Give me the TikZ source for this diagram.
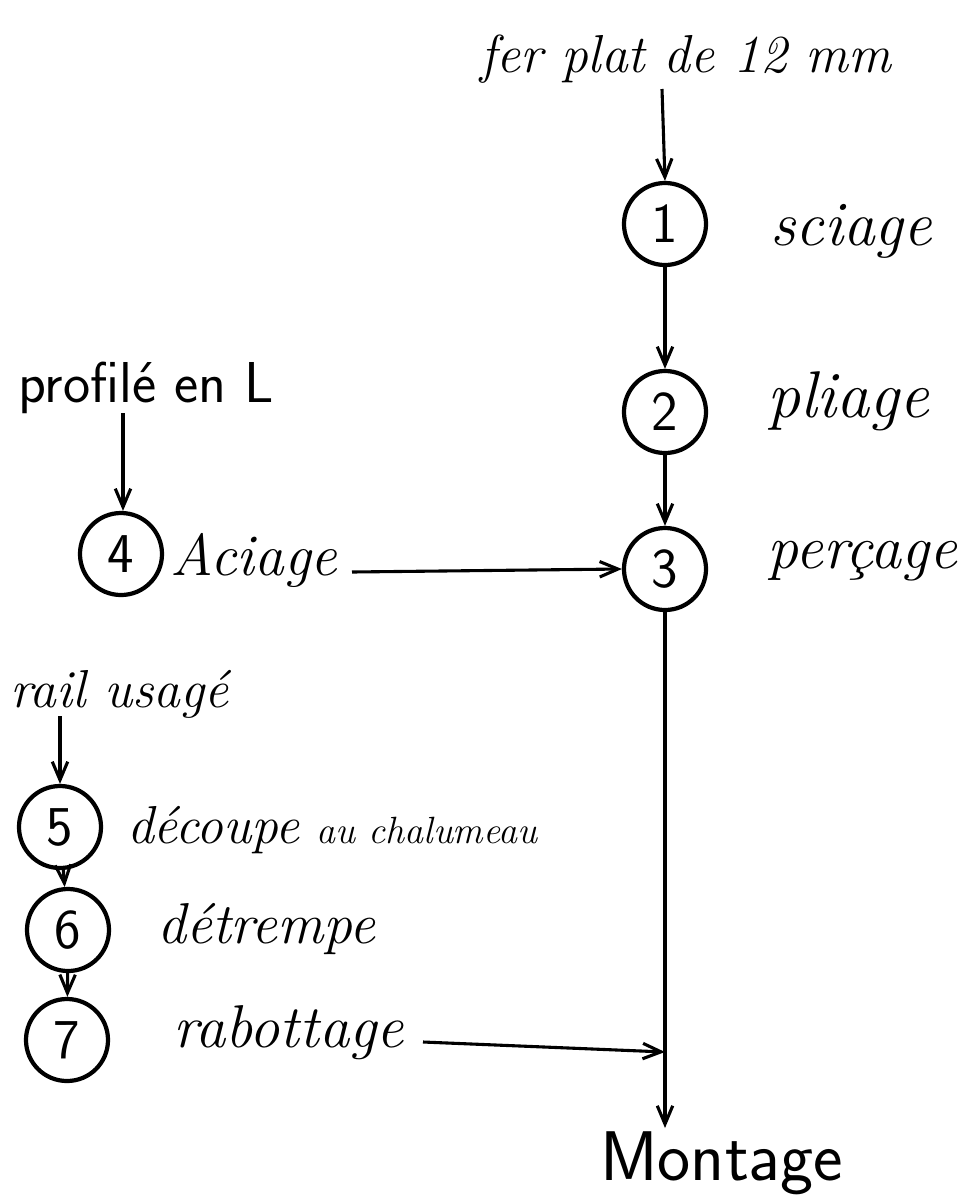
\documentclass[tikz,border=0pt]{standalone}
\usetikzlibrary{arrows.meta}
\begin{document}
\begin{tikzpicture}[x=0.025cm, y=-0.025cm,
  opcircle/.style={circle, draw, line width=3pt, inner sep=0pt, minimum size=2.05cm,
                   font=\sffamily\fontsize{40}{46}\selectfont},
  hand/.style={inner sep=0pt, anchor=base west},
  flow/.style={line width=2.2pt, -{Straight Barb[length=13pt, width=11pt, line width=2.2pt]}}
]
\useasboundingbox (0,0) rectangle (976,1199);

% main line: flat bar
\node[hand, font=\itshape\fontsize{38}{44}\selectfont] (fer) at (480,72) {fer plat de 12 mm};
\node[opcircle] (c1) at (665,224) {1};
\node[opcircle] (c2) at (665,412) {2};
\node[opcircle] (c3) at (665,569) {3};
\node[hand, font=\itshape\fontsize{45}{52}\selectfont] (l1) at (770,245) {sciage};
\node[hand, font=\itshape\fontsize{47}{54}\selectfont] (l2) at (767,417) {pliage};
\node[hand, font=\itshape\fontsize{44}{52}\selectfont] (l3) at (767,568) {perçage};

% angle iron branch
\node[hand, font=\sffamily\fontsize{41}{48}\selectfont] (prof) at (18,402) {profilé en L};
\node[opcircle] (c4) at (121,554) {4};
\node[hand, font=\itshape\fontsize{42}{48}\selectfont] (l4) at (170,575) {Aciage};

% used rail branch
\node[hand, font=\itshape\fontsize{38}{44}\selectfont] (rail) at (10,707) {rail usagé};
\node[opcircle] (c5) at (60,827) {5};
\node[opcircle] (c6) at (68,930) {6};
\node[opcircle] (c7) at (67,1040) {7};
\node[hand, font=\itshape\fontsize{38}{44}\selectfont] (l5) at (127,843) {découpe};
\node[hand, font=\itshape\fontsize{27}{32}\selectfont] (l5b) at (316,843) {au chalumeau};
\node[hand, font=\itshape\fontsize{41}{48}\selectfont] (l6) at (157,943) {détrempe};
\node[hand, font=\itshape\fontsize{43}{50}\selectfont] (l7) at (173,1047) {rabottage};

\node[hand, font=\sffamily\fontsize{50}{58}\selectfont] (mont) at (600,1180) {Montage};

% connector end points
\coordinate (ferout) at (662,89);
\coordinate (profout) at (123,413);
\coordinate (aciout) at (352,572);
\coordinate (railout) at (60,716);
\coordinate (rabout) at (423,1042);
\coordinate (join) at (665,1052);
\coordinate (montin) at (665,1128);

\draw[flow] (ferout) -- (c1.north);
\draw[flow] (c1) -- (c2);
\draw[flow] (c2) -- (c3);
\draw[flow] (profout) -- (profout |- c4.north);
\draw[flow] (aciout) -- (c3.west);
\draw[flow] (railout) -- (railout |- c5.north);
\draw[flow] (c5) -- (c6);
\draw[flow] (c6) -- (c7);
\draw[flow] (rabout) -- (join);
\draw[flow] (c3.south) -- (montin);
\end{tikzpicture}
\end{document}
